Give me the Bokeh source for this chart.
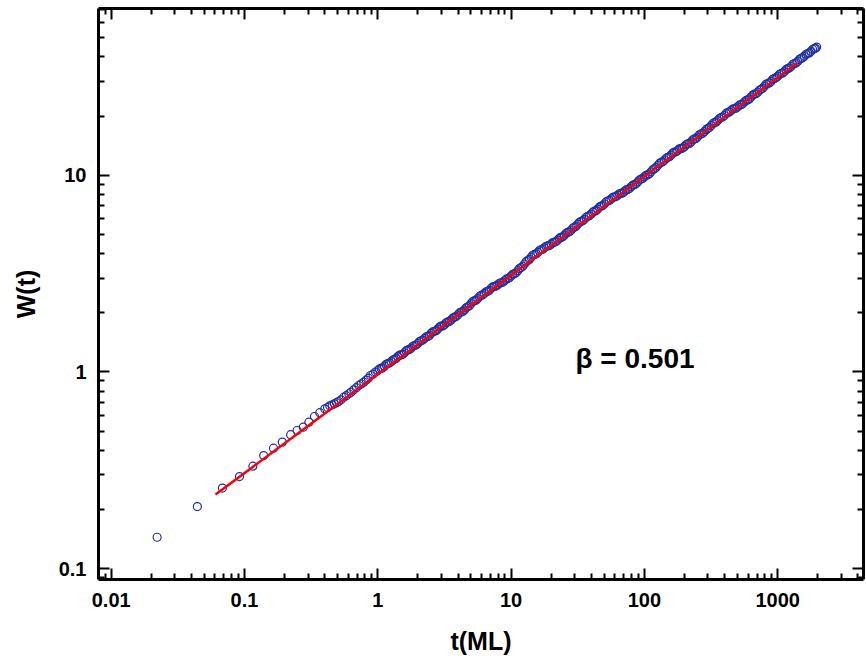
from bokeh.plotting import figure
from bokeh.models import LogAxis, FixedTicker, Label, ColumnDataSource, Range1d
from bokeh.embed import file_html
from bokeh.resources import INLINE

# ---- data ----
t_data = [0.0221, 0.0443, 0.0683, 0.0917, 0.1156, 0.1393, 0.165, 0.192, 0.222, 0.248,
          0.276, 0.304, 0.335, 0.367, 0.400, 0.42, 0.436, 0.455, 0.473, 0.49, 0.509,
          0.53, 0.556, 0.58, 0.606, 0.63, 0.661, 0.69, 0.720, 0.75, 0.785, 0.82, 0.85,
          0.881, 0.92, 0.96,
          1.000, 1.059, 1.122, 1.189, 1.259, 1.334, 1.413, 1.496, 1.585, 1.679,
          1.778, 1.884, 1.995, 2.113, 2.239, 2.371, 2.512, 2.661, 2.818, 2.985,
          3.162, 3.350, 3.548, 3.758, 3.981, 4.217, 4.467, 4.732, 5.012, 5.309,
          5.623, 5.957, 6.310, 6.683, 7.079, 7.499, 7.943, 8.414, 8.913, 9.441,
          10.00, 10.59, 11.22, 11.89, 12.59, 13.34, 14.13, 14.96, 15.85, 16.79,
          17.78, 18.84, 19.95, 21.13, 22.39, 23.71, 25.12, 26.61, 28.18, 29.85,
          31.62, 33.50, 35.48, 37.58, 39.81, 42.17, 44.67, 47.32, 50.12, 53.09,
          56.23, 59.57, 63.10, 66.83, 70.79, 74.99, 79.43, 84.14, 89.13, 94.41,
          100.0, 105.9, 112.2, 118.9, 125.9, 133.4, 141.3, 149.6, 158.5, 167.9,
          177.8, 188.4, 199.5, 211.3, 223.9, 237.1, 251.2, 266.1, 281.8, 298.5,
          316.2, 335.0, 354.8, 375.8, 398.1, 421.7, 446.7, 473.2, 501.2, 530.9,
          562.3, 595.7, 631.0, 668.3, 707.9, 749.9, 794.3, 841.4, 891.3, 944.1,
          1000, 1059, 1122, 1189, 1259, 1334, 1413, 1496, 1585, 1679,
          1778, 1884, 1960]
w_data = [0.1445, 0.207, 0.257, 0.294, 0.332, 0.376, 0.410, 0.440, 0.480, 0.504,
          0.524, 0.556, 0.594, 0.621, 0.650, 0.660, 0.673, 0.681, 0.689, 0.698, 0.708,
          0.722, 0.745, 0.758, 0.775, 0.790, 0.812, 0.832, 0.854, 0.870, 0.888, 0.910, 0.930,
          0.960, 0.975, 1.000,
          1.018, 1.043, 1.070, 1.104, 1.129, 1.160, 1.198, 1.221, 1.253, 1.296,
          1.320, 1.364, 1.396, 1.442, 1.481, 1.517, 1.572, 1.611, 1.652, 1.711,
          1.739, 1.797, 1.839, 1.900, 1.951, 2.019, 2.069, 2.145, 2.228, 2.304,
          2.362, 2.451, 2.512, 2.572, 2.666, 2.722, 2.776, 2.843, 2.910, 2.987,
          3.080, 3.157, 3.276, 3.396, 3.541, 3.689, 3.833, 3.961, 4.053, 4.187,
          4.280, 4.375, 4.467, 4.574, 4.685, 4.836, 4.952, 5.132, 5.256, 5.448,
          5.645, 5.834, 5.975, 6.192, 6.348, 6.572, 6.736, 6.975, 7.150, 7.402,
          7.589, 7.764, 7.927, 8.093, 8.279, 8.469, 8.753, 8.953, 9.252, 9.570,
          9.82, 10.06, 10.42, 10.81, 11.22, 11.64, 11.93, 12.35, 12.67, 13.12,
          13.39, 13.70, 13.98, 14.45, 14.78, 15.31, 15.69, 16.24, 16.66, 17.28,
          17.89, 18.52, 18.99, 19.66, 20.15, 20.86, 21.35, 21.84, 22.30, 22.86,
          23.62, 24.17, 25.02, 25.85, 26.45, 27.38, 28.35, 29.30, 30.03, 31.10,
          31.87, 32.94, 33.70, 34.89, 35.76, 37.03, 37.96, 39.30, 40.29, 41.63,
          42.68, 44.09, 44.90]

# in-between samples of the dense band (t > 1)
t_mid = [1.029, 1.090, 1.155, 1.223, 1.296, 1.372, 1.454, 1.540, 1.631, 1.728,
         1.830, 1.939, 2.054, 2.175, 2.304, 2.441, 2.585, 2.738, 2.901, 3.073,
         3.255, 3.448, 3.652, 3.868, 4.097, 4.340, 4.597, 4.870, 5.158, 5.464,
         5.788, 6.131, 6.494, 6.879, 7.286, 7.718, 8.175, 8.660, 9.173, 9.716,
         10.29, 10.90, 11.55, 12.23, 12.96, 13.72, 14.54, 15.40, 16.31, 17.28,
         18.30, 19.39, 20.54, 21.75, 23.04, 24.41, 25.85, 27.38, 29.01, 30.73,
         32.55, 34.48, 36.52, 38.68, 40.97, 43.40, 45.97, 48.70, 51.58, 54.64,
         57.88, 61.31, 64.94, 68.79, 72.86, 77.18, 81.75, 86.60, 91.73, 97.16,
         102.9, 109.0, 115.5, 122.3, 129.6, 137.2, 145.4, 154.0, 163.1, 172.8,
         183.0, 193.9, 205.4, 217.5, 230.4, 244.1, 258.5, 273.8, 290.1, 307.3,
         325.5, 344.8, 365.2, 386.8, 409.7, 434.0, 459.7, 487.0, 515.8, 546.4,
         578.8, 613.1, 649.4, 687.9, 728.6, 771.8, 817.5, 866.0, 917.3, 971.6,
         1029, 1090, 1155, 1223, 1296, 1372, 1454, 1540, 1631, 1728, 1830, 1922]
w_mid = [1.037, 1.050, 1.094, 1.110, 1.151, 1.172, 1.217, 1.230, 1.282, 1.300,
         1.350, 1.372, 1.428, 1.453, 1.508, 1.535, 1.601, 1.622, 1.692, 1.715,
         1.779, 1.807, 1.881, 1.914, 1.997, 2.032, 2.120, 2.173, 2.280, 2.319,
         2.421, 2.467, 2.557, 2.603, 2.710, 2.733, 2.826, 2.859, 2.966, 3.015,
         3.137, 3.197, 3.356, 3.448, 3.637, 3.738, 3.920, 3.983, 4.145, 4.208,
         4.353, 4.394, 4.548, 4.602, 4.789, 4.865, 5.072, 5.163, 5.384, 5.513,
         5.774, 5.869, 6.120, 6.232, 6.499, 6.614, 6.897, 7.020, 7.320, 7.451,
         7.723, 7.798, 8.058, 8.137, 8.424, 8.559, 8.906, 9.048, 9.467, 9.637,
         10.00, 10.18, 10.68, 10.95, 11.50, 11.71, 12.21, 12.43, 12.97, 13.18,
         13.63, 13.76, 14.30, 14.53, 15.14, 15.41, 16.06, 16.35, 17.07, 17.48,
         18.31, 18.64, 19.44, 19.79, 20.63, 20.98, 21.72, 21.94, 22.72, 23.10,
         24.04, 24.45, 25.59, 25.99, 27.08, 27.70, 29.00, 29.49, 30.75, 31.30,
         32.60, 33.12, 34.50, 35.11, 36.61, 37.27, 38.86, 39.56, 41.21, 41.90, 43.65, 44.23]

# power-law fit line (beta = 0.501), end points
t_fit = [0.0606, 1400]
w_fit = [0.238, 37.2]

x_ticks = [0.01, 0.1, 1, 10, 100, 1000]
x_labels = ["0.01", "0.1", "1", "10", "100", "1000"]
y_ticks = [0.1, 1, 10]
y_labels = ["0.1", "1", "10"]
beta_text = "\u03b2 = 0.501"
x_title = "t(ML)"
y_title = "W(t)"

FONT = "Liberation Sans"

p = figure(width=866, height=663, x_axis_type="log", y_axis_type="log",
           x_range=Range1d(0.00803, 4404), y_range=Range1d(0.0881, 70.5),
           output_backend="svg", toolbar_location=None,
           min_border_left=98, min_border_right=3, min_border_top=8, min_border_bottom=84,
           background_fill_color="white", border_fill_color="white")
p.xgrid.visible = False
p.ygrid.visible = False
p.outline_line_color = None

decades = [10.0 ** e for e in range(-3, 5)]
minor = [d * m for d in decades for m in range(2, 10)]
xt = FixedTicker(ticks=x_ticks, minor_ticks=minor)
yt = FixedTicker(ticks=[0.01, 0.1, 1, 10, 100], minor_ticks=minor)


def style(ax, labels=True):
    ax.axis_line_width = 3
    ax.axis_line_color = "black"
    ax.major_tick_in = 11
    ax.major_tick_out = 0
    ax.minor_tick_in = 6
    ax.minor_tick_out = 0
    ax.major_tick_line_width = 2
    ax.minor_tick_line_width = 2
    ax.major_tick_line_color = "black"
    ax.minor_tick_line_color = "black"
    if labels:
        ax.major_label_text_font = FONT
        ax.major_label_text_font_style = "bold"
        ax.major_label_text_font_size = "20px"
        ax.major_label_text_color = "black"
        ax.axis_label_text_font = FONT
        ax.axis_label_text_font_style = "bold"
        ax.axis_label_text_font_size = "25px"
        ax.axis_label_text_color = "black"
    else:
        ax.major_label_text_font_size = "1px"
        ax.major_label_text_color = None
        ax.major_label_standoff = 0


xa = p.xaxis[0]
xa.ticker = xt
xa.major_label_overrides = {v: s for v, s in zip(x_ticks, x_labels)}
xa.axis_label = x_title
style(xa)
xa.major_label_standoff = 13
xa.axis_label_standoff = 17

ya = p.yaxis[0]
ya.ticker = yt
ya.major_label_overrides = {v: s for v, s in zip(y_ticks, y_labels)}
ya.axis_label = y_title
style(ya)
ya.major_label_standoff = 12
ya.axis_label_standoff = 16

top = LogAxis(ticker=xt)
style(top, labels=False)
p.add_layout(top, "above")
right = LogAxis(ticker=yt)
style(right, labels=False)
p.add_layout(right, "right")

src = ColumnDataSource(dict(t=t_data + t_mid, w=w_data + w_mid))
p.scatter("t", "w", source=src, marker="circle", size=8, fill_color=None,
          line_color="#1f2fa8", line_width=1.2)
p.line(t_fit, w_fit, line_color="#ff0000", line_width=2.5)

lab = Label(x=30.4, y=1.171, text=beta_text, text_font=FONT, text_font_style="bold",
            text_font_size="28px", text_baseline="middle", text_align="left",
            text_color="black")
p.add_layout(lab)

open("out.html", "w").write(file_html(p, INLINE))
